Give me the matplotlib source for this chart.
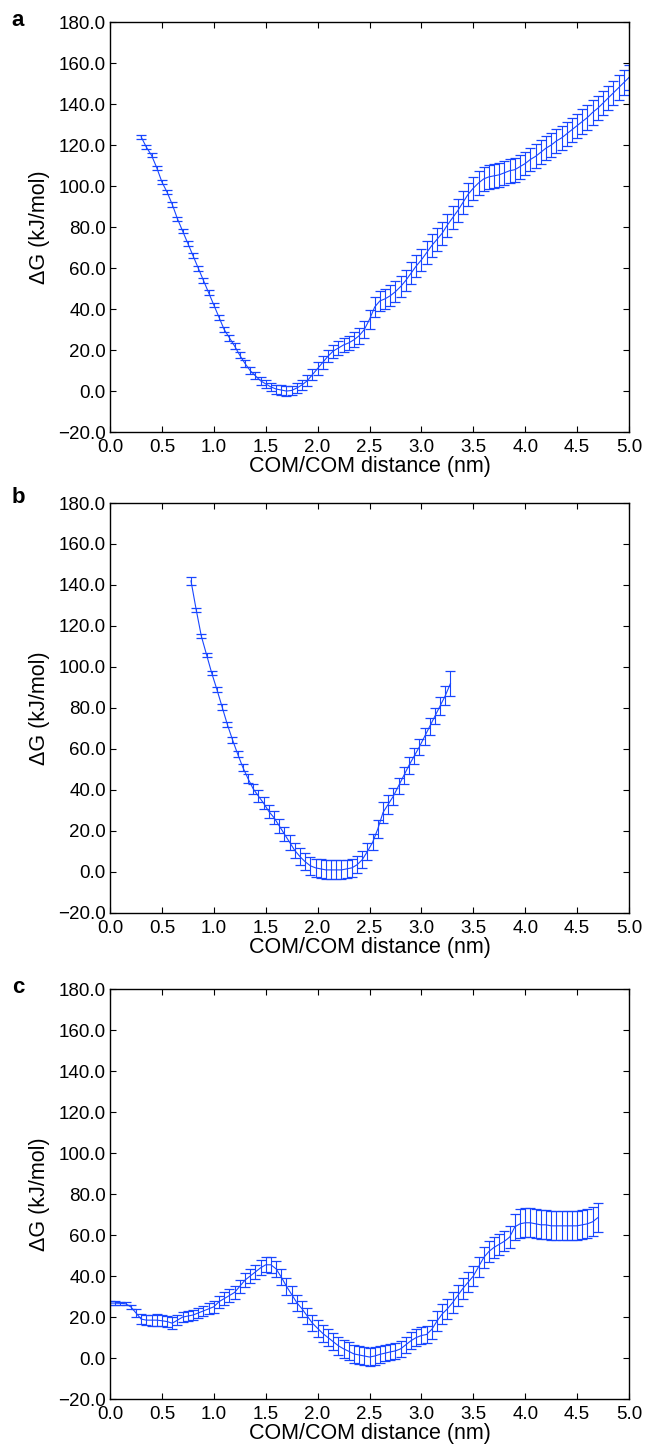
import numpy as np
import matplotlib.pyplot as plt
from matplotlib.ticker import FuncFormatter

plt.rcParams['font.family'] = ['Liberation Sans', 'DejaVu Sans']

# panel a: distance grid and free energy (kJ/mol)
x_a = np.arange(0.30, 5.0001, 0.05)
g_a = [124, 119, 115, 109, 102, 97, 91, 84, 78, 72,
       66, 60, 54, 48, 42, 36, 30, 26, 22, 17.5,
       13.5, 10, 7.5, 5, 3.5, 2, 1, 0.5, 0, 0.3,
       1.5, 3, 5, 8, 11, 14, 17, 19.5, 21, 22.5,
       23.5, 25, 27, 30, 35, 41, 44, 45, 46.5, 48.5,
       51, 54, 57.5, 61, 64, 67.5, 71, 74, 77, 81,
       84.5, 88, 92, 96, 99, 101.5, 103.5, 104.5, 105, 105.5,
       106.5, 107.5, 108, 109.5, 111, 113, 114.5, 116.5, 118.5, 120,
       122, 123.5, 125.5, 127.5, 129.5, 131.5, 133.5, 136, 138, 140.5,
       143, 145.5, 148, 150.5, 153]
e_a = [1, 1, 1, 1, 1, 1, 1, 1, 1, 1,
       1.2, 1.2, 1.2, 1.2, 1.2, 1.3, 1.3, 1.4, 1.5, 1.5,
       1.6, 1.7, 1.8, 1.9, 2, 2, 2.2, 2.3, 2.4, 2.4,
       2.5, 2.5, 2.6, 2.8, 3, 3, 3, 3.2, 3.3, 3.5,
       3.5, 3.6, 3.8, 4, 4.5, 5, 5, 5, 5, 5,
       5.2, 5.3, 5.4, 5.5, 5.5, 5.5, 5.6, 5.6, 5.6, 5.6,
       5.6, 5.6, 5.6, 5.6, 5.6, 5.7, 5.8, 5.8, 5.8, 5.8,
       5.8, 5.8, 5.8, 5.8, 5.8, 5.8, 5.8, 5.8, 5.8, 5.8,
       5.9, 5.9, 5.9, 5.9, 5.9, 5.9, 6, 6, 6, 6,
       6, 6, 6, 6, 6.2]

# panel b
x_b = np.arange(0.78, 3.2801, 0.05)
g_b = [142, 128, 115, 106, 97, 89, 80.5, 72, 64.5, 57.5,
       51, 45.5, 40.5, 37, 33.5, 29.5, 26.5, 22.5, 18.5, 14.5,
       10.5, 7.5, 5, 3, 2, 1.5, 1, 1, 1, 1,
       1.5, 2, 3.5, 6, 10, 14.5, 21, 29, 33, 37,
       42, 47, 52, 56.5, 61, 66, 71, 76, 81, 86,
       92]
e_b = [2, 1, 1, 1, 1, 1.2, 1.3, 1.4, 1.5, 1.6,
       1.8, 2.2, 2.6, 3, 3, 3.2, 3.3, 3.4, 3.5, 3.6,
       3.8, 4, 4.2, 4.4, 4.5, 4.6, 4.6, 4.6, 4.6, 4.6,
       4.5, 4.4, 4.2, 4, 4, 4, 4.5, 5, 4.5, 4.2,
       4, 4, 4, 4, 4, 4, 4, 4, 4.2, 4.5,
       6]

# panel c
x_c = np.arange(0.0, 4.7001, 0.05)
g_c = [26.8, 26.8, 26.7, 26.5, 25, 22, 19, 18.5, 18.5, 18.5,
       18.2, 17.8, 17, 18.5, 20, 20.5, 21, 22, 23, 24,
       25, 27.5, 29, 30.5, 32, 35, 38, 40, 42, 44,
       45.5, 45.5, 43.5, 39.5, 35, 31, 27, 24, 20.5, 17,
       14.5, 12, 10, 8, 6, 4.5, 3.3, 2, 1.5, 1,
       0.5, 1, 1.8, 2.4, 3, 3.5, 4.5, 6.5, 8.5, 10,
       11, 11.5, 14, 18, 21.5, 24, 27, 30.5, 34, 37,
       40, 44.5, 49, 52, 54, 55.5, 57, 59, 64, 65.5,
       66, 66, 65.5, 65, 65, 64.5, 64.5, 64.5, 64.5, 64.5,
       64.5, 65, 65.5, 66.5, 68.5]
e_c = [0.8, 0.8, 0.8, 0.8, 1, 1.8, 2.5, 2.6, 2.7, 2.8,
       2.8, 2.8, 2.8, 2.6, 2.5, 2.5, 2.5, 2.5, 2.6, 2.7,
       2.8, 3, 3, 3, 3.1, 3.2, 3.3, 3.4, 3.5, 3.6,
       3.7, 3.8, 3.9, 4, 4, 4, 4, 4, 4, 4,
       4, 4, 4, 4.2, 4.3, 4.3, 4.3, 4.3, 4.3, 4.3,
       4.3, 4.2, 4.1, 4, 4, 4, 4, 4, 4, 4,
       4, 4.2, 4.5, 4.8, 5, 5, 5, 5, 5, 5,
       5, 5, 5, 5, 5, 5, 5, 5.5, 6.5, 7,
       7, 7, 7, 7, 7, 7, 7, 7, 7, 7,
       7, 7, 7, 7, 7]

panels = [('a', x_a, g_a, e_a), ('b', x_b, g_b, e_b), ('c', x_c, g_c, e_c)]
bottoms = [0.7010, 0.3682, 0.0318]
letter_y = [0.9855, 0.6555, 0.3165]

# one-decimal labels with a real minus sign
fmt = FuncFormatter(lambda v, p: ('%.1f' % v).replace('-', '\u2212'))

blue = '#1846ff'
fig = plt.figure(figsize=(6.46, 14.45), dpi=100)
for (lab, x, g, e), b, ly in zip(panels, bottoms, letter_y):
    ax = fig.add_axes([0.1703, b, 0.8034, 0.2837])
    ax.errorbar(x, g, yerr=e, color=blue, lw=0.8, elinewidth=0.8,
                capsize=3.5, capthick=0.9)
    ax.set_xlim(0, 5)
    ax.set_ylim(-20, 180)
    ax.set_xticks(np.arange(0, 5.01, 0.5))
    ax.set_yticks(np.arange(-20, 181, 20))
    ax.xaxis.set_major_formatter(fmt)
    ax.yaxis.set_major_formatter(fmt)
    ax.tick_params(direction='in', top=True, right=True, length=4,
                   width=0.8, labelsize=13.5)
    ax.tick_params(axis='x', pad=5)
    ax.tick_params(axis='y', pad=3)
    for s in ax.spines.values():
        s.set_linewidth(1.0)
    ax.set_xlabel('COM/COM distance (nm)', fontsize=15.5, labelpad=0)
    ax.set_ylabel('\u0394G (kJ/mol)', fontsize=15.5, labelpad=6)
    fig.text(0.018, ly, lab, fontsize=16, fontweight='bold', va='center')

fig.savefig('out.png', dpi=100)
